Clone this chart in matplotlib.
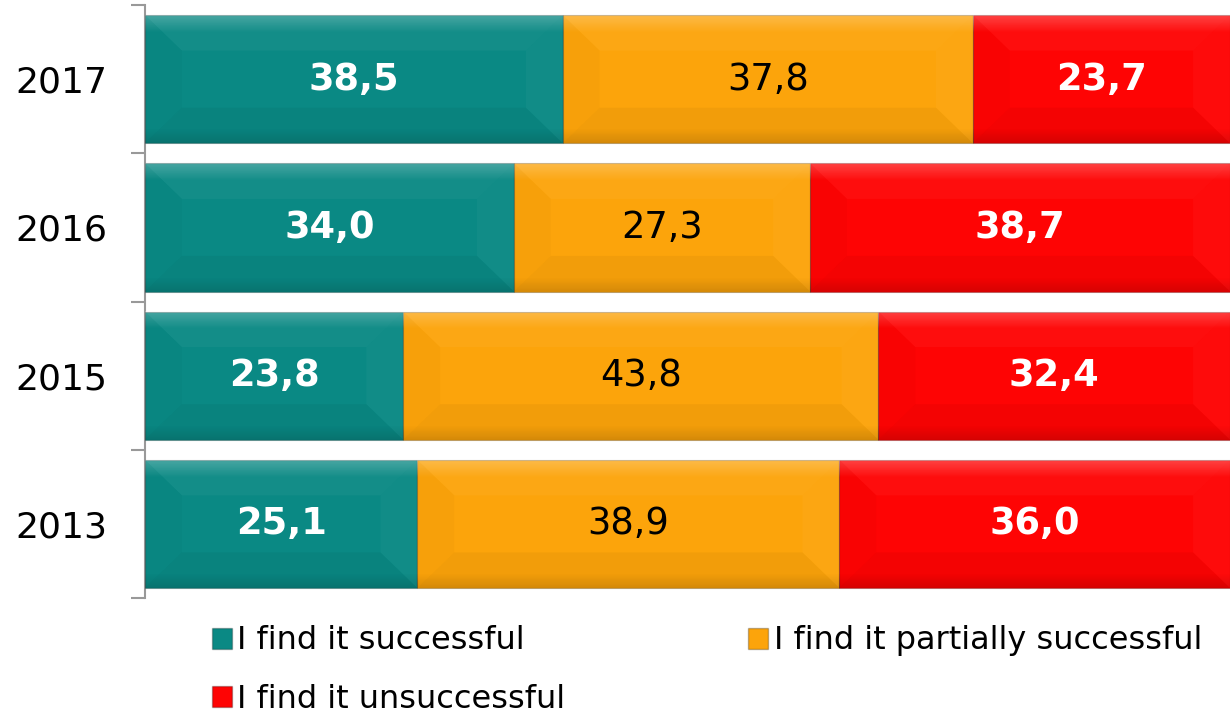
import numpy as np
import matplotlib
matplotlib.use("Agg")
import matplotlib.pyplot as plt
from matplotlib.patches import Patch, Polygon

years = ['2017', '2016', '2015', '2013']
successful = [38.5, 34.0, 23.8, 25.1]
partial = [37.8, 27.3, 43.8, 38.9]
unsuccessful = [23.7, 38.7, 32.4, 36.0]

series_names = ['I find it successful', 'I find it partially successful', 'I find it unsuccessful']
colors = ['#0A8984', '#FCA40B', '#FE0404']
label_colors = ['white', 'black', 'white']
label_weights = ['bold', 'normal', 'bold']

plt.rcParams['font.family'] = ['DejaVu Sans']

fig = plt.figure(figsize=(12.3, 7.15), dpi=100)
ax = fig.add_axes([0.1179, 0.1636, 0.8821, 0.8294])

y = np.arange(len(years))
height = 0.865
bw_x = 3.4   # bevel width in data units (x)
bw_y = 0.24  # bevel depth in data units (y)


def bevel(ax, x0, w, yc, h):
    top, bot = yc - h / 2, yc + h / 2  # y inverted: top has smaller value
    x1 = x0 + w
    bx = min(bw_x, w / 2)
    # top light band
    ax.add_patch(Polygon([(x0, top), (x1, top), (x1 - bx, top + bw_y), (x0 + bx, top + bw_y)],
                         closed=True, fc='white', alpha=0.04, lw=0, zorder=3))
    # bottom dark band
    ax.add_patch(Polygon([(x0, bot), (x1, bot), (x1 - bx, bot - bw_y), (x0 + bx, bot - bw_y)],
                         closed=True, fc='black', alpha=0.04, lw=0, zorder=3))
    # left side
    ax.add_patch(Polygon([(x0, top), (x0 + bx, top + bw_y), (x0 + bx, bot - bw_y), (x0, bot)],
                         closed=True, fc='black', alpha=0.02, lw=0, zorder=3))
    # right side
    ax.add_patch(Polygon([(x1, top), (x1 - bx, top + bw_y), (x1 - bx, bot - bw_y), (x1, bot)],
                         closed=True, fc='white', alpha=0.03, lw=0, zorder=3))
    # top highlight gradient
    grad = np.zeros((20, 1, 4))
    grad[..., :3] = 1.0
    grad[:, 0, 3] = np.linspace(0.22, 0.0, 20)
    ax.imshow(grad, extent=(x0, x1, top + 0.12, top), aspect='auto', zorder=3,
              interpolation='bilinear')
    # bottom shade gradient
    grad2 = np.zeros((20, 1, 4))
    grad2[:, 0, 3] = np.linspace(0.0, 0.12, 20)
    ax.imshow(grad2, extent=(x0, x1, bot, bot - 0.1), aspect='auto', zorder=3,
              interpolation='bilinear')


left = np.zeros(len(years))
for vals, col, lc, lw_, name in zip([successful, partial, unsuccessful], colors,
                                     label_colors, label_weights, series_names):
    bars = ax.barh(y, vals, left=left, height=height, color=col,
                   edgecolor='#00000040', linewidth=0.8, zorder=2, label=name)
    for b, v, l in zip(bars, vals, left):
        bevel(ax, l, v, b.get_y() + b.get_height() / 2, b.get_height())
        ax.text(l + v / 2, b.get_y() + b.get_height() / 2,
                f"{v:.1f}".replace('.', ','), ha='center', va='center',
                color=lc, fontsize=26.5, fontweight=lw_, zorder=5)
    left = left + np.array(vals)

ax.set_xlim(0, 100)
ax.set_ylim(len(years) - 0.5, -0.5)

for s in ['top', 'right', 'bottom']:
    ax.spines[s].set_visible(False)
ax.spines['left'].set_color('#999999')
ax.spines['left'].set_linewidth(1.5)
ax.spines['left'].set_zorder(1)
ax.set_xticks([])

ax.set_yticks(np.arange(len(years) + 1) - 0.5)
ax.set_yticklabels([])
ax.tick_params(axis='y', which='major', length=10, width=1.5, color='#999999', direction='out')
ax.set_yticks(y, minor=True)
ax.set_yticklabels(years, minor=True)
ax.tick_params(axis='y', which='minor', length=0, pad=27, labelsize=26)

handles = [Patch(facecolor=colors[0], edgecolor='#00000040', label=series_names[0]),
           Patch(facecolor=colors[2], edgecolor='#00000040', label=series_names[2]),
           Patch(facecolor=colors[1], edgecolor='#00000040', label=series_names[1])]
fig.legend(handles=handles, ncol=2, loc='center left', bbox_to_anchor=(0.172, 0.063),
           frameon=False, fontsize=23, handlelength=0.63, handleheight=0.63,
           handletextpad=0.18, columnspacing=5.7, labelspacing=0.85,
           borderpad=0, borderaxespad=0)

fig.savefig('out.png', dpi=100)
